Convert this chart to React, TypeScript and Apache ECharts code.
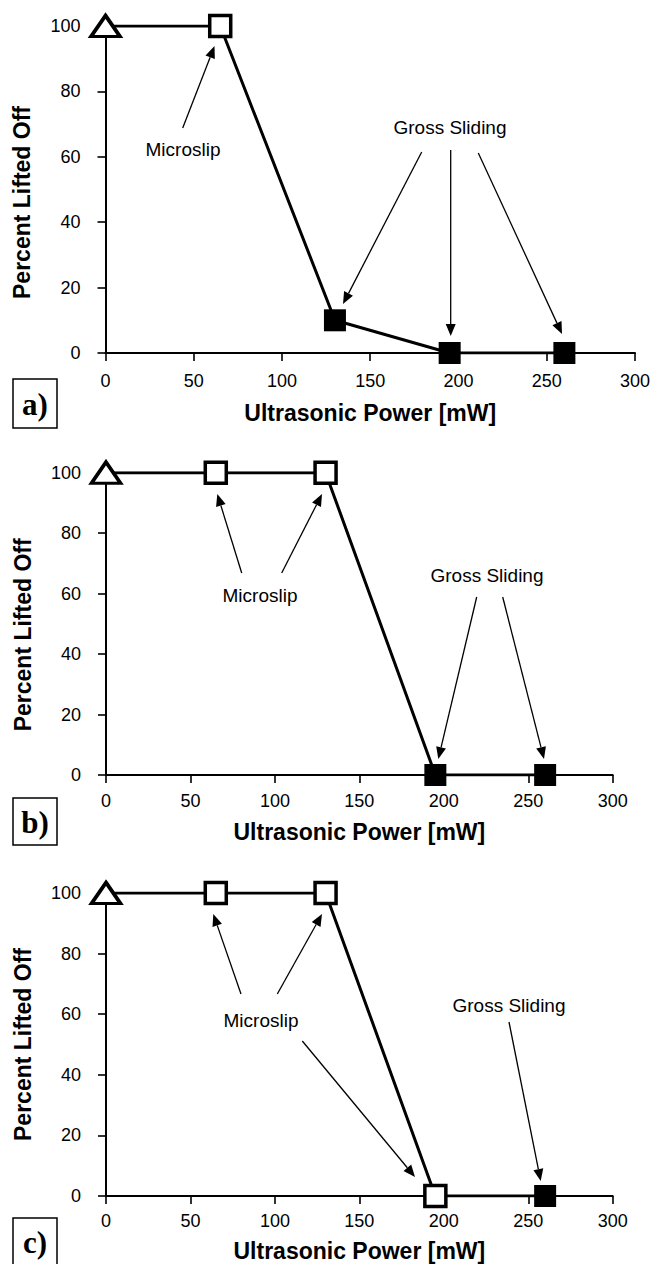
import React, { useEffect, useRef } from "react";
import * as echarts from "echarts";

// ---------------- data ----------------
const POWER_MW = [0, 65, 130, 195, 260];
const LIFTED_A = [100, 100, 10, 0, 0];
const LIFTED_B = [100, 100, 100, 0, 0];
const LIFTED_C = [100, 100, 100, 0, 0];
// contact state at each point: "none" (no ultrasound), "microslip", "gross"
const STATE_A = ["none", "microslip", "gross", "gross", "gross"];
const STATE_B = ["none", "microslip", "microslip", "gross", "gross"];
const STATE_C = ["none", "microslip", "microslip", "microslip", "gross"];
const PANEL_TAGS = ["a)", "b)", "c)"];
const X_MIN = 0, X_MAX = 300, X_STEP = 50;
const Y_MIN = 0, Y_MAX = 100, Y_STEP = 20;
const X_NAME = "Ultrasonic Power [mW]";
const Y_NAME = "Percent Lifted Off";
const MICRO_TEXT = "Microslip";
const GROSS_TEXT = "Gross Sliding";

// ---------------- layout ----------------
const FONT = "'Liberation Sans', Arial, Helvetica, sans-serif";
const GRIDS = [
  { left: 105.5, top: 26, width: 530.5, height: 327, labelMargin: 19, nameGap: 48, yShift: 26 },
  { left: 106, top: 472.7, width: 506.7, height: 302.3, labelMargin: 17, nameGap: 45, yShift: 22 },
  { left: 106, top: 893, width: 506.7, height: 303, labelMargin: 16, nameGap: 43, yShift: 0 },
];
const TAG_BOXES = [
  { x: 13, y: 379, w: 44, h: 49 },
  { x: 13, y: 798, w: 44, h: 47 },
  { x: 13, y: 1218, w: 44, h: 47 },
];
// annotation texts [text, cx, cy]
const NOTE_TEXTS: [string, number, number][] = [
  [MICRO_TEXT, 183, 149],
  [GROSS_TEXT, 450, 127],
  [MICRO_TEXT, 260, 595],
  [GROSS_TEXT, 487, 575],
  [MICRO_TEXT, 261, 1020],
  [GROSS_TEXT, 509, 1005],
];
// arrows [x1, y1, x2(tip), y2(tip)]
const ARROWS: [number, number, number, number][] = [
  [182.7, 128, 214.5, 46],
  [421.7, 152, 343, 304],
  [450.7, 150, 450.7, 336],
  [478.3, 153, 562, 334],
  [241.7, 573, 217.3, 494],
  [281.7, 573, 322, 494],
  [476.7, 597, 438.3, 759],
  [502.7, 597, 544, 759],
  [241, 994, 213.3, 914],
  [277.3, 994, 322, 914],
  [302.3, 1041, 415, 1177],
  [509, 1022, 540.7, 1181],
];

function markerFor(state: string) {
  if (state === "none") {
    return {
      symbol: "triangle",
      symbolSize: [29, 21],
      itemStyle: { color: "#fff", borderColor: "#000", borderWidth: 3.5, borderJoin: "miter" },
    };
  }
  if (state === "microslip") {
    return {
      symbol: "rect",
      symbolSize: 21,
      itemStyle: { color: "#fff", borderColor: "#000", borderWidth: 3.5 },
    };
  }
  return {
    symbol: "rect",
    symbolSize: 22,
    itemStyle: { color: "#000", borderColor: "#000", borderWidth: 0 },
  };
}

function arrowGraphics(a: [number, number, number, number]) {
  const [x1, y1, x2, y2] = a;
  const dx = x2 - x1, dy = y2 - y1;
  const len = Math.sqrt(dx * dx + dy * dy);
  const ux = dx / len, uy = dy / len;
  const headLen = 12, headHalf = 5;
  const bx = x2 - ux * headLen, by = y2 - uy * headLen;
  const px = -uy, py = ux;
  return [
    {
      type: "line",
      shape: { x1, y1, x2: bx, y2: by },
      style: { stroke: "#000", lineWidth: 1.3 },
      silent: true,
    },
    {
      type: "polygon",
      shape: {
        points: [
          [x2, y2],
          [bx + px * headHalf, by + py * headHalf],
          [bx - px * headHalf, by - py * headHalf],
        ],
      },
      style: { fill: "#000" },
      silent: true,
    },
  ];
}

export default function App() {
  const ref = useRef<HTMLDivElement>(null);

  useEffect(() => {
    if (!ref.current) return;
    const chart = echarts.init(ref.current, null, { renderer: "svg" });

    const panels = [
      { y: LIFTED_A, s: STATE_A },
      { y: LIFTED_B, s: STATE_B },
      { y: LIFTED_C, s: STATE_C },
    ];

    const grid = GRIDS.map((g) => ({
      left: g.left,
      top: g.top,
      width: g.width,
      height: g.height,
      containLabel: false,
    }));

    const xAxis = GRIDS.map((g, i) => ({
      type: "value",
      gridIndex: i,
      min: X_MIN,
      max: X_MAX,
      interval: X_STEP,
      name: X_NAME,
      nameLocation: "middle",
      nameGap: g.nameGap,
      nameTextStyle: { fontFamily: FONT, fontSize: 23, fontWeight: "bold", color: "#000" },
      axisLine: { onZero: false, lineStyle: { color: "#000", width: 2 } },
      axisTick: { show: true, length: 8, lineStyle: { color: "#000", width: 1.6 } },
      axisLabel: { fontFamily: FONT, fontSize: 18, color: "#000", margin: g.labelMargin },
      splitLine: { show: false },
    }));

    const yAxis = GRIDS.map((g, i) => ({
      type: "value",
      gridIndex: i,
      min: Y_MIN,
      max: Y_MAX,
      interval: Y_STEP,
      name: Y_NAME,
      nameLocation: "middle",
      nameGap: 72,
      nameRotate: 90,
      nameTextStyle: {
        fontFamily: FONT,
        fontSize: 23,
        fontWeight: "bold",
        color: "#000",
        padding: [0, g.yShift, 0, 0],
      },
      axisLine: { onZero: false, lineStyle: { color: "#000", width: 2 } },
      axisTick: { show: true, length: 8, lineStyle: { color: "#000", width: 1.6 } },
      axisLabel: { fontFamily: FONT, fontSize: 18, color: "#000", margin: 25 },
      splitLine: { show: false },
    }));

    const series = panels.map((p, i) => ({
      type: "line",
      xAxisIndex: i,
      yAxisIndex: i,
      lineStyle: { color: "#000", width: 3 },
      itemStyle: { color: "#000" },
      z: 5,
      data: POWER_MW.map((x, k) => ({ value: [x, p.y[k]], ...markerFor(p.s[k]) })),
    }));

    const graphic: any[] = [];
    TAG_BOXES.forEach((b, i) => {
      graphic.push({
        type: "rect",
        shape: { x: b.x, y: b.y, width: b.w, height: b.h },
        style: { fill: "#fff", stroke: "#000", lineWidth: 1.5 },
        silent: true,
      });
      graphic.push({
        type: "text",
        x: b.x + b.w / 2,
        y: b.y + b.h / 2 + 1,
        style: {
          text: PANEL_TAGS[i],
          font: "bold 31px 'Liberation Serif', 'Times New Roman', serif",
          fill: "#000",
          align: "center",
          verticalAlign: "middle",
        },
        silent: true,
      });
    });
    NOTE_TEXTS.forEach(([t, cx, cy]) => {
      graphic.push({
        type: "text",
        x: cx,
        y: cy,
        style: {
          text: t,
          font: `19px ${FONT}`,
          fill: "#000",
          align: "center",
          verticalAlign: "middle",
        },
        silent: true,
      });
    });
    ARROWS.forEach((a) => graphic.push(...arrowGraphics(a)));

    chart.setOption({
      animation: false,
      backgroundColor: "#fff",
      grid,
      xAxis,
      yAxis,
      series,
      graphic,
    });

    return () => chart.dispose();
  }, []);

  return (
    <div
      ref={ref}
      style={{ position: "absolute", left: 0, top: 0, width: 653, height: 1264, background: "#fff" }}
    />
  );
}
